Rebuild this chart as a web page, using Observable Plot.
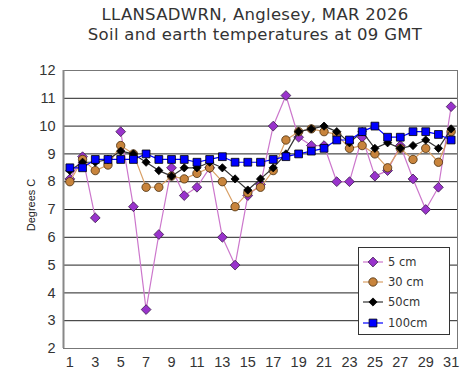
<!DOCTYPE html>
<html><head><meta charset="utf-8">
<script src="https://cdn.jsdelivr.net/npm/d3@7"></script>
<script src="https://cdn.jsdelivr.net/npm/@observablehq/plot@0.6"></script>
<style>
body{margin:0;background:#fff;}
#wrap{position:relative;width:463px;height:377px;overflow:hidden;background:#fff;}
#title{position:absolute;left:47px;top:5px;width:416px;text-align:center;font-family:"DejaVu Sans",Verdana,sans-serif;font-size:16.5px;letter-spacing:0.3px;line-height:20px;color:#333;}
#ylab{position:absolute;left:31px;top:205px;transform:translate(-50%,-50%) rotate(-90deg);font-family:"Liberation Sans",Arial,sans-serif;font-size:11px;color:#222;white-space:nowrap;}
#legend{position:absolute;left:358px;top:247px;width:92px;height:88px;border:1px solid #333;background:#fff;box-sizing:border-box;font-family:"DejaVu Sans",Verdana,sans-serif;font-size:11.5px;color:#333;}
#legend .row{position:absolute;left:3px;height:16px;display:flex;align-items:center;}
#legend .row span{margin-left:4px;}
#chart{position:absolute;left:0;top:0;}
</style>
</head><body>
<div id="wrap">
<div id="chart"></div>
<div id="title"></div>
<div id="ylab">Degrees C</div>
<div id="legend"></div>
</div>
<script>
const titleLines = ["LLANSADWRN, Anglesey, MAR 2026", "Soil and earth temperatures at 09 GMT"];
const yAxisLabel = "Degrees C";
const days = [1,2,3,4,5,6,7,8,9,10,11,12,13,14,15,16,17,18,19,20,21,22,23,24,25,26,27,28,29,30,31];
const xTicks = [1,3,5,7,9,11,13,15,17,19,21,23,25,27,29,31];
const yTicks = [2,3,4,5,6,7,8,9,10,11,12];
const seriesNames = ["5 cm", "30 cm", "50cm", "100cm"];
const t5 = [8.1, 8.9, 6.7, null, 9.8, 7.1, 3.4, 6.1, 8.5, 7.5, 7.8, 8.5, 6.0, 5.0, 7.5, 7.9, 10.0, 11.1, 9.6, 9.3, 9.3, 8.0, 8.0, 9.6, 8.2, 8.4, 9.3, 8.1, 7.0, 7.8, 10.7];
const t30 = [8.0, 8.8, 8.4, 8.6, 9.3, 9.0, 7.8, 7.8, 8.2, 8.1, 8.3, 8.5, 8.0, 7.1, 7.6, 7.8, 8.4, 9.5, 9.8, 9.9, 9.8, 9.7, 9.2, 9.3, 9.0, 8.5, 9.2, 8.8, 9.2, 8.7, 9.8];
const t50 = [8.4, 8.7, 8.7, 8.8, 9.1, 9.0, 8.7, 8.4, 8.2, 8.5, 8.5, 8.7, 8.5, 8.1, 7.7, 8.1, 8.5, 9.0, 9.8, 9.9, 10.0, 9.8, 9.4, 9.8, 9.2, 9.4, 9.2, 9.3, 9.5, 9.2, 9.9];
const t100 = [8.5, 8.5, 8.8, 8.8, 8.8, 8.8, 9.0, 8.8, 8.8, 8.8, 8.7, 8.8, 8.9, 8.7, 8.7, 8.7, 8.8, 8.9, 9.0, 9.1, 9.2, 9.5, 9.5, 9.8, 10.0, 9.6, 9.6, 9.8, 9.8, 9.7, 9.5];

const styles = [
  {vals: t5,   line: "#cc77cc", fill: "#9933cc", stroke: "#3a1a4a", symbol: "diamond2", r: 4.4},
  {vals: t30,  line: "#d9a066", fill: "#c8843c", stroke: "#4a3010", symbol: "circle",   r: 4.2},
  {vals: t50,  line: "#333333", fill: "#000000", stroke: "#000000", symbol: "diamond2", r: 3.7},
  {vals: t100, line: "#0000ff", fill: "#0000ff", stroke: "#000000", symbol: "square",   r: 4.4}
];

document.getElementById("title").innerHTML = titleLines.join("<br>");
document.getElementById("ylab").textContent = yAxisLabel;

const xDomain = [0.5, 31.5];
const marks = [
  Plot.ruleY(yTicks, {stroke: "#222", strokeWidth: 1}),
  Plot.frame({stroke: "#777"}),
  Plot.ruleX([xDomain[0]], {stroke: "#888", strokeWidth: 2})
];
styles.forEach((s, i) => {
  const data = days.map((d, j) => ({day: d, v: s.vals[j]}));
  marks.push(Plot.line(data, {x: "day", y: "v", stroke: s.line, strokeWidth: 1.2}));
  marks.push(Plot.dot(data.filter(d => d.v != null), {x: "day", y: "v", symbol: s.symbol, r: s.r, fill: s.fill, stroke: s.stroke, strokeWidth: 0.8}));
});
marks.push(Plot.axisX({ticks: xTicks, tickSize: 0, tickPadding: 8, tickFormat: d => String(d)}));
marks.push(Plot.axisY({ticks: yTicks, tickSize: 0, tickPadding: 8, tickFormat: d => String(d)}));

const chart = Plot.plot({
  width: 463, height: 377,
  marginTop: 70, marginBottom: 29, marginLeft: 63, marginRight: 6,
  x: {domain: xDomain, label: null},
  y: {domain: [2, 12], label: null},
  style: {fontFamily: "'Liberation Sans', Arial, sans-serif", fontSize: "14.5px", color: "#333", background: "#fff", overflow: "visible"},
  marks
});
document.getElementById("chart").appendChild(chart);

// legend
const leg = document.getElementById("legend");
const tops = [6, 26, 46, 67];
seriesNames.forEach((name, i) => {
  const s = styles[i];
  const row = document.createElement("div");
  row.className = "row";
  row.style.top = tops[i] + "px";
  const sym = d3.symbol().type(s.symbol === "circle" ? d3.symbolCircle : s.symbol === "square" ? d3.symbolSquare : d3.symbolDiamond2).size(Math.PI * s.r * s.r)();
  row.innerHTML = `<svg width="22" height="16"><line x1="1" x2="21" y1="8" y2="8" stroke="${s.line}" stroke-width="1.2"/><path transform="translate(11,8)" d="${sym}" fill="${s.fill}" stroke="${s.stroke}" stroke-width="0.8"/></svg><span>${name}</span>`;
  leg.appendChild(row);
});
</script>
</body></html>
